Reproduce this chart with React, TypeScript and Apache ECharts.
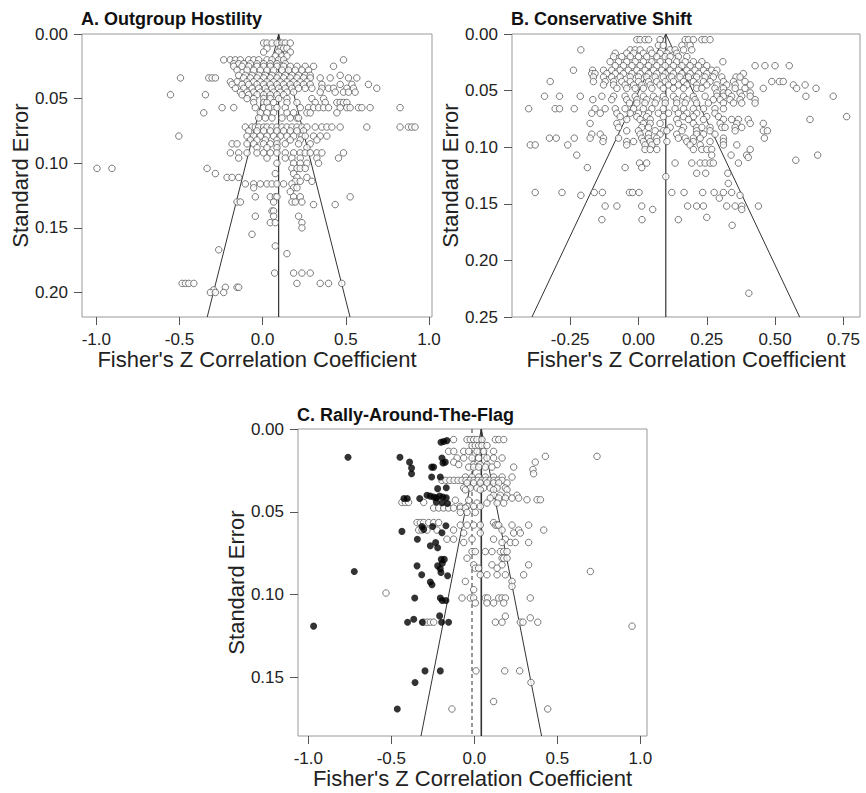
import React, { useEffect, useRef } from 'react';
import * as echarts from 'echarts';

const FONT = '"Liberation Sans", Arial, Helvetica, sans-serif';

// Panel A: Outgroup Hostility — rows of [standard error, Fisher's Z values]
const hostilityRows: [number, number[]][] = [
  [0.007, [0.006, 0.026, 0.056, 0.086, 0.116, 0.136, 0.166]],
  [0.011, [0.026, 0.106, 0.126, 0.146]],
  [0.014, [0.006, 0.096, 0.166]],
  [0.017, [0.076, 0.116, 0.146]],
  [0.020, [-0.234, -0.194, -0.164, -0.134, -0.084, -0.054, -0.024, 0.026, 0.056, 0.096, 0.126, 0.486]],
  [0.023, [-0.174, -0.144, -0.114, -0.074, -0.034, 0.006, 0.046, 0.086, 0.136]],
  [0.025, [-0.174, -0.124, -0.084, -0.034, 0.006, 0.046, 0.086, 0.126, 0.166, 0.206, 0.256, 0.306, 0.426]],
  [0.028, [-0.154, -0.094, -0.054, -0.014, 0.026, 0.066, 0.116, 0.156, 0.196, 0.236, 0.276]],
  [0.032, [-0.144, -0.104, -0.064, -0.024, 0.016, 0.056, 0.096, 0.136, 0.176, 0.216, 0.256, 0.286, 0.466]],
  [0.034, [-0.494, -0.324, -0.304, -0.284, -0.114, -0.074, -0.034, 0.006, 0.046, 0.086, 0.126, 0.166, 0.206, 0.246, 0.286, 0.346, 0.406, 0.516, 0.566]],
  [0.037, [-0.194, -0.154, -0.094, -0.054, -0.014, 0.026, 0.066, 0.106, 0.146, 0.186, 0.226, 0.266]],
  [0.039, [-0.184, -0.124, -0.084, -0.034, 0.006, 0.046, 0.086, 0.126, 0.166, 0.206, 0.246, 0.286, 0.356, 0.466, 0.536, 0.636]],
  [0.042, [-0.164, -0.114, -0.064, -0.024, 0.016, 0.056, 0.096, 0.136, 0.176, 0.216, 0.256, 0.296, 0.356, 0.396, 0.426, 0.506, 0.546, 0.686]],
  [0.045, [-0.134, -0.094, -0.054, -0.014, 0.026, 0.066, 0.106, 0.146, 0.186, 0.346, 0.436, 0.486, 0.516, 0.556]],
  [0.047, [-0.554, -0.344, -0.124, -0.084, -0.034, 0.006, 0.046, 0.086, 0.126]],
  [0.050, [-0.094, -0.054, 0.006, 0.046, 0.096, 0.146, 0.296, 0.366]],
  [0.053, [-0.054, 0.006, 0.026, 0.066, 0.146, 0.206, 0.316, 0.376, 0.446, 0.466, 0.486, 0.506]],
  [0.057, [-0.244, -0.174, -0.044, 0.006, 0.036, 0.086, 0.136, 0.226, 0.276, 0.306, 0.336, 0.366, 0.396, 0.466, 0.506, 0.526, 0.576, 0.596, 0.646, 0.826]],
  [0.061, [-0.354, -0.014, 0.026, 0.066, 0.146, 0.186, 0.266, 0.286, 0.446]],
  [0.065, [-0.024, 0.016, 0.056, 0.116, 0.166, 0.206, 0.216]],
  [0.072, [-0.104, -0.064, -0.044, -0.024, 0.006, 0.026, 0.056, 0.086, 0.116, 0.146, 0.176, 0.206, 0.236, 0.266, 0.316, 0.356, 0.386, 0.416, 0.466, 0.626, 0.826, 0.876, 0.896, 0.916]],
  [0.075, [-0.084, -0.034, 0.006, 0.046, 0.086, 0.126, 0.166, 0.206, 0.246]],
  [0.079, [-0.504, -0.094, -0.054, -0.014, 0.026, 0.066, 0.106, 0.146, 0.186, 0.236, 0.256, 0.306, 0.346, 0.386]],
  [0.082, [-0.074, -0.034, 0.016, 0.086, 0.166, 0.226, 0.326]],
  [0.085, [-0.184, -0.154, -0.094, -0.054, 0.006, 0.046, 0.086, 0.136, 0.216, 0.286]],
  [0.088, [-0.034, 0.026, 0.086, 0.266]],
  [0.092, [-0.194, -0.144, -0.094, -0.034, 0.006, 0.046, 0.086, 0.136, 0.186, 0.226, 0.256, 0.286, 0.326, 0.356, 0.486]],
  [0.096, [-0.144, 0.026, 0.136, 0.176, 0.226, 0.326, 0.456]],
  [0.100, [0.086, 0.186, 0.226, 0.266, 0.336]],
  [0.104, [-0.996, -0.906, -0.334, 0.176, 0.206, 0.226, 0.256]],
  [0.108, [-0.284, 0.076, 0.186]],
  [0.111, [-0.214, -0.184, -0.144, 0.206, 0.266]],
  [0.114, [0.196, 0.226, 0.296]],
  [0.116, [-0.104, -0.054, -0.014, 0.026, 0.056, 0.086, 0.126, 0.176]],
  [0.119, [-0.054, 0.186, 0.206]],
  [0.122, [0.166]],
  [0.126, [-0.044, 0.046, 0.076, 0.086, 0.186, 0.226, 0.526]],
  [0.130, [-0.154, -0.134, 0.066, 0.176, 0.196, 0.236]],
  [0.132, [0.306, 0.436]],
  [0.137, [0.056, 0.066]],
  [0.141, [-0.044, 0.066, 0.216]],
  [0.146, [0.046, 0.076, 0.236]],
  [0.150, [0.236]],
  [0.155, [-0.064]],
  [0.164, [0.076]],
  [0.167, [-0.264]],
  [0.170, [0.146]],
  [0.185, [0.072, 0.186, 0.236, 0.286]],
  [0.193, [-0.484, -0.464, -0.444, -0.414, 0.206, 0.346, 0.396, 0.476]],
  [0.196, [-0.224, -0.154, -0.144]],
  [0.198, [-0.294]],
  [0.200, [-0.314, -0.284, -0.234]],
];

// Panel B: Conservative Shift
const shiftRows: [number, number[]][] = [
  [0.005, [-0.006, 0.006, 0.024, 0.037, 0.079, 0.171, 0.183, 0.201, 0.232, 0.244, 0.262]],
  [0.010, [0.073, 0.091, 0.159, 0.189]],
  [0.014, [-0.211, -0.030, -0.012, 0.006, 0.043, 0.116, 0.134, 0.165, 0.195]],
  [0.017, [-0.085, -0.043, -0.018, 0.018, 0.049, 0.079, 0.104, 0.140]],
  [0.020, [-0.091, -0.061, -0.030, 0.000, 0.030, 0.067, 0.098, 0.116, 0.146, 0.177]],
  [0.0245, [-0.104, -0.073, -0.043, -0.012, 0.018, 0.049, 0.079, 0.110, 0.140, 0.171, 0.201, 0.232, 0.309]],
  [0.028, [-0.085, -0.055, -0.024, 0.006, 0.037, 0.067, 0.098, 0.128, 0.159, 0.189, 0.220, 0.250, 0.427, 0.463, 0.500, 0.552]],
  [0.032, [-0.238, -0.168, -0.128, -0.098, -0.067, -0.037, -0.006, 0.024, 0.055, 0.085, 0.116, 0.146, 0.177, 0.207, 0.238, 0.268, 0.287]],
  [0.035, [-0.171, -0.159, -0.116, -0.085, -0.055, -0.024, 0.006, 0.037, 0.067, 0.098, 0.128, 0.159, 0.189, 0.220, 0.250, 0.280, 0.384]],
  [0.038, [-0.165, -0.128, -0.098, -0.067, -0.030, 0.000, 0.030, 0.061, 0.091, 0.122, 0.152, 0.183, 0.213, 0.244, 0.274, 0.305, 0.357, 0.372]],
  [0.042, [-0.323, -0.165, -0.122, -0.091, -0.061, -0.030, 0.000, 0.037, 0.067, 0.098, 0.128, 0.165, 0.201, 0.238, 0.262, 0.311, 0.348, 0.390, 0.488, 0.516, 0.530]],
  [0.045, [-0.128, -0.091, -0.049, -0.018, 0.012, 0.043, 0.079, 0.110, 0.146, 0.177, 0.213, 0.250, 0.287, 0.323, 0.354, 0.409, 0.567, 0.610]],
  [0.048, [-0.079, -0.043, -0.012, 0.018, 0.049, 0.091, 0.128, 0.165, 0.213, 0.232, 0.280, 0.311, 0.354, 0.390, 0.457, 0.579, 0.650]],
  [0.052, [0.287, 0.311, 0.329, 0.372, 0.409]],
  [0.055, [-0.344, -0.289, -0.213, -0.134, -0.091, -0.049, -0.012, 0.018, 0.055, 0.091, 0.128, 0.165, 0.201, 0.244, 0.287, 0.311, 0.341, 0.378, 0.409, 0.613, 0.713]],
  [0.058, [-0.167, -0.098, -0.043, -0.006, 0.030, 0.067, 0.098, 0.140, 0.177, 0.207, 0.274, 0.299, 0.335, 0.372, 0.427]],
  [0.061, [-0.033, -0.006, 0.024, 0.061, 0.098, 0.140, 0.171, 0.213, 0.256, 0.311, 0.348, 0.378, 0.427]],
  [0.066, [-0.402, -0.305, -0.289, -0.235, -0.159, -0.122, -0.085, -0.049, -0.018, 0.018, 0.049, 0.091, 0.134, 0.165, 0.201, 0.238, 0.280, 0.311]],
  [0.070, [-0.171, -0.140, -0.079, -0.030, 0.000, 0.037, 0.073, 0.110, 0.146, 0.177, 0.213, 0.280]],
  [0.073, [-0.067, -0.006, 0.030, 0.091, 0.165, 0.201, 0.250, 0.293, 0.762]],
  [0.0755, [-0.043, 0.006, 0.043, 0.140, 0.183, 0.238, 0.311, 0.341, 0.366, 0.402, 0.628]],
  [0.079, [-0.177, -0.079, 0.018, 0.043, 0.079, 0.146, 0.201, 0.299, 0.360, 0.409, 0.457]],
  [0.0825, [-0.073, 0.012, 0.037, 0.116, 0.165, 0.213, 0.232, 0.262, 0.305, 0.317, 0.354, 0.378]],
  [0.0855, [-0.043, 0.000, 0.061, 0.091, 0.104, 0.159, 0.213, 0.262, 0.354, 0.457, 0.472]],
  [0.0885, [-0.171, -0.140, 0.006, 0.037, 0.079, 0.140, 0.213, 0.238, 0.280]],
  [0.092, [-0.326, -0.301, -0.235, -0.177, -0.128, -0.073, 0.012, 0.037, 0.067, 0.146, 0.171, 0.201, 0.226, 0.311, 0.461]],
  [0.095, [-0.130, -0.043, -0.018, 0.018, 0.043, 0.067, 0.104, 0.177, 0.201, 0.262, 0.311]],
  [0.098, [-0.396, -0.378, -0.259, -0.043, 0.024, 0.049, 0.189, 0.226, 0.311, 0.360]],
  [0.102, [0.024, 0.043, 0.067, 0.201, 0.232, 0.250, 0.268, 0.409]],
  [0.107, [-0.226, 0.268, 0.339, 0.396, 0.656]],
  [0.109, [0.402]],
  [0.1115, [0.576]],
  [0.114, [0.004, 0.030, 0.134, 0.195, 0.226, 0.244, 0.262, 0.274, 0.366]],
  [0.118, [-0.187, -0.049, 0.012]],
  [0.123, [0.213, 0.246, 0.327]],
  [0.126, [0.100]],
  [0.132, [0.329]],
  [0.140, [-0.378, -0.280, -0.162, -0.132, -0.033, -0.022, 0.002, 0.122, 0.167, 0.235, 0.277, 0.311, 0.341]],
  [0.1425, [-0.211, 0.372]],
  [0.145, [0.296]],
  [0.152, [-0.122, -0.079, 0.012, 0.180, 0.213, 0.238, 0.323, 0.354, 0.378, 0.439]],
  [0.155, [0.052, 0.378]],
  [0.162, [0.250]],
  [0.164, [-0.134, 0.013, 0.146]],
  [0.169, [0.343]],
  [0.229, [0.404]],
];

// Panel C: Rally-Around-The-Flag (open = observed studies)
const rallyOpenRows: [number, number[]][] = [
  [0.0064, [-0.125, -0.044, -0.024, -0.004, 0.016, 0.046, 0.127, 0.147, 0.177]],
  [0.010, [-0.014, 0.006, 0.026, 0.046, 0.076]],
  [0.0135, [-0.155, -0.124, -0.064, -0.034, 0.016, 0.056, 0.116]],
  [0.0165, [0.428, 0.739]],
  [0.0175, [-0.104, -0.064, -0.014, 0.026, 0.076, 0.116, 0.167]],
  [0.020, [-0.124, 0.367]],
  [0.0215, [-0.094, -0.004, 0.036, 0.076, 0.137]],
  [0.023, [-0.034, -0.004, 0.026, 0.066, 0.106, 0.237]],
  [0.0245, [0.353]],
  [0.027, [0.357]],
  [0.029, [-0.054, -0.014, 0.026, 0.066, 0.116, 0.167, 0.227]],
  [0.031, [-0.195, -0.171, -0.147, -0.122, -0.098, -0.074, -0.050, -0.026, -0.002, 0.022, 0.046, 0.070, 0.094, 0.118, 0.143, 0.167]],
  [0.0326, [-0.044, -0.004, 0.036, 0.076, 0.116, 0.147, 0.197]],
  [0.0356, [-0.064, -0.024, 0.016, 0.056, 0.096, 0.137, 0.187]],
  [0.0367, [-0.054, 0.036, 0.116, 0.197]],
  [0.040, [0.116, 0.157, 0.197, 0.257]],
  [0.0417, [0.096, 0.147, 0.187, 0.227, 0.267]],
  [0.0427, [0.317, 0.378, 0.398]],
  [0.043, [-0.114, -0.034]],
  [0.0443, [-0.436, -0.416, -0.396, -0.305]],
  [0.0447, [0.016, 0.076, 0.137, 0.177]],
  [0.0467, [-0.084, -0.044, -0.004, 0.036]],
  [0.0477, [-0.245, -0.215, -0.185, -0.155, -0.125, -0.084, -0.054]],
  [0.0503, [-0.084, -0.044, 0.006]],
  [0.0565, [-0.345, -0.325, -0.305, -0.275, -0.245, -0.215, 0.116]],
  [0.058, [-0.084, -0.044, -0.004, 0.036, 0.127, 0.137, 0.147, 0.227, 0.327]],
  [0.061, [-0.335, -0.315, -0.285, -0.225, -0.125, 0.167, 0.267, 0.418]],
  [0.0628, [-0.064, 0.036, 0.237, 0.277]],
  [0.0665, [-0.165, -0.125, -0.014, 0.116, 0.187]],
  [0.0685, [-0.064, 0.167, 0.217, 0.247, 0.327]],
  [0.074, [-0.014, 0.006, 0.066, 0.106, 0.157, 0.177, 0.197]],
  [0.078, [-0.044, 0.167, 0.177, 0.197]],
  [0.082, [-0.004, 0.106, 0.167, 0.327]],
  [0.084, [0.006, 0.026, 0.137]],
  [0.086, [0.699]],
  [0.088, [0.036, 0.076, 0.137, 0.187, 0.297]],
  [0.092, [-0.054, 0.227]],
  [0.095, [0.227]],
  [0.097, [-0.004]],
  [0.099, [-0.532]],
  [0.102, [-0.074, -0.024, -0.004, 0.066, 0.080, 0.147, 0.167, 0.187, 0.337]],
  [0.105, [0.006, 0.076, 0.116, 0.177]],
  [0.113, [0.187]],
  [0.114, [0.337]],
  [0.1166, [-0.305, -0.285, -0.265, -0.245, 0.127, 0.167, 0.277, 0.293, 0.382]],
  [0.119, [0.950]],
  [0.146, [0.010, 0.183, 0.273]],
  [0.153, [0.341]],
  [0.1645, [0.116]],
  [0.169, [-0.135, 0.442]],
];

// Panel C: imputed studies (filled) as [Fisher's Z, SE]
const rallyFilled: [number, number][] = [
  [-0.761, 0.017], [-0.448, 0.017], [-0.390, 0.020], [-0.378, 0.0236], [-0.378, 0.027],
  [-0.257, 0.023], [-0.245, 0.023], [-0.195, 0.0175], [-0.189, 0.0205], [-0.175, 0.020],
  [-0.165, 0.007], [-0.185, 0.0075], [-0.201, 0.008],
  [-0.257, 0.029], [-0.205, 0.029], [-0.221, 0.036], [-0.169, 0.0355],
  [-0.424, 0.042], [-0.404, 0.042], [-0.329, 0.042],
  [-0.285, 0.040], [-0.265, 0.0405], [-0.245, 0.041], [-0.229, 0.0415], [-0.209, 0.0405], [-0.189, 0.041], [-0.169, 0.0415],
  [-0.229, 0.044], [-0.193, 0.0445], [-0.161, 0.045],
  [-0.436, 0.0618], [-0.343, 0.0665], [-0.315, 0.0588], [-0.251, 0.0588], [-0.171, 0.0584],
  [-0.305, 0.0606], [-0.195, 0.0626],
  [-0.265, 0.0705], [-0.233, 0.0685], [-0.221, 0.0717],
  [-0.199, 0.0787], [-0.181, 0.0787], [-0.193, 0.081],
  [-0.345, 0.0826], [-0.221, 0.0826], [-0.205, 0.0844], [-0.201, 0.0866], [-0.161, 0.0886],
  [-0.317, 0.088], [-0.723, 0.086], [-0.265, 0.0924], [-0.255, 0.094],
  [-0.359, 0.102], [-0.205, 0.102], [-0.171, 0.1035], [-0.193, 0.1035],
  [-0.209, 0.1128], [-0.402, 0.1166], [-0.365, 0.1148], [-0.313, 0.1166], [-0.197, 0.1166], [-0.155, 0.1166],
  [-0.968, 0.119], [-0.297, 0.146], [-0.205, 0.146], [-0.357, 0.153], [-0.464, 0.169],
];

// Summary estimates and axis ranges
const titles = ['A. Outgroup Hostility', 'B. Conservative Shift', 'C. Rally-Around-The-Flag'];
const means = [0.096, 0.1, 0.042];
const adjustedMeanC = -0.014;
const seMax = [0.219, 0.25, 0.1853];
const xRanges: [number, number][] = [[-1.086, 1.018], [-0.463, 0.811], [-1.062, 1.04]];
const xTicks = [[-1.0, -0.5, 0.0, 0.5, 1.0], [-0.25, 0.0, 0.25, 0.5, 0.75], [-1.0, -0.5, 0.0, 0.5, 1.0]];
const xDecimals = [1, 2, 1];
const yTicks = [[0, 0.05, 0.1, 0.15, 0.2], [0, 0.05, 0.1, 0.15, 0.2, 0.25], [0, 0.05, 0.1, 0.15]];

const grids = [
  { left: 82, top: 34, width: 350, height: 283 },
  { left: 512, top: 34, width: 348, height: 283 },
  { left: 298, top: 429, width: 349, height: 307 },
];
const titlePos = [
  { left: 81, top: 10 },
  { left: 511, top: 10 },
  { left: 297, top: 406 },
];

function rowsToPoints(rows: [number, number[]][]): [number, number][] {
  const out: [number, number][] = [];
  for (const [se, xs] of rows) for (const x of xs) out.push([x, se]);
  return out;
}

function funnel(mean: number, se: number): [number, number][] {
  return [[mean - 1.96 * se, se], [mean, 0], [mean + 1.96 * se, se]];
}

export default function App() {
  const ref = useRef<HTMLDivElement>(null);
  useEffect(() => {
    if (!ref.current) return;
    const chart = echarts.init(ref.current, undefined, { renderer: 'svg' });
    const openPoints = [rowsToPoints(hostilityRows), rowsToPoints(shiftRows), rowsToPoints(rallyOpenRows)];

    const xAxis = grids.map((_, i) => ({
      type: 'value',
      gridIndex: i,
      position: 'bottom',
      min: xRanges[i][0],
      max: xRanges[i][1],
      axisLine: { show: false, onZero: false },
      splitLine: { show: false },
      axisTick: { show: true, inside: false, length: 8, customValues: xTicks[i], lineStyle: { color: '#555', width: 1 } },
      axisLabel: {
        customValues: xTicks[i],
        formatter: (v: number) => v.toFixed(xDecimals[i]),
        fontSize: 17, color: '#222', fontFamily: FONT, margin: 14,
      },
      name: "Fisher's Z Correlation Coefficient",
      nameLocation: 'middle',
      nameGap: 31,
      nameTextStyle: { fontSize: 22, color: '#222', fontFamily: FONT },
    }));

    const yAxis = grids.map((_, i) => ({
      type: 'value',
      gridIndex: i,
      position: 'left',
      inverse: true,
      min: 0,
      max: seMax[i],
      axisLine: { show: false, onZero: false },
      splitLine: { show: false },
      axisTick: { show: true, inside: false, length: 8, customValues: yTicks[i], lineStyle: { color: '#555', width: 1 } },
      axisLabel: {
        customValues: yTicks[i],
        formatter: (v: number) => v.toFixed(2),
        fontSize: 17, color: '#222', fontFamily: FONT, margin: 14,
      },
      name: 'Standard Error',
      nameLocation: 'middle',
      nameGap: 48,
      nameTextStyle: { fontSize: 22, color: '#222', fontFamily: FONT },
    }));

    const series: any[] = [];
    grids.forEach((_, i) => {
      series.push({
        type: 'line', xAxisIndex: i, yAxisIndex: i, data: funnel(means[i], seMax[i]),
        symbol: 'none', silent: true, z: 1, lineStyle: { color: '#333', width: 1 },
      });
      series.push({
        type: 'line', xAxisIndex: i, yAxisIndex: i, data: [[means[i], 0], [means[i], seMax[i]]],
        symbol: 'none', silent: true, z: 1, lineStyle: { color: '#333', width: i === 2 ? 1.6 : 1.2 },
      });
      series.push({
        type: 'scatter', xAxisIndex: i, yAxisIndex: i, data: openPoints[i],
        symbol: 'circle', symbolSize: 6.5, z: 2,
        itemStyle: { color: '#fff', borderColor: '#5a5a5a', borderWidth: 1 },
      });
    });
    series.push({
      type: 'line', xAxisIndex: 2, yAxisIndex: 2, data: [[adjustedMeanC, 0], [adjustedMeanC, seMax[2]]],
      symbol: 'none', silent: true, z: 1, lineStyle: { color: '#333', width: 1, type: [4, 3] },
    });
    series.push({
      type: 'scatter', xAxisIndex: 2, yAxisIndex: 2, data: rallyFilled,
      symbol: 'circle', symbolSize: 7, z: 3,
      itemStyle: { color: '#000', borderColor: '#000', borderWidth: 0 },
    });

    chart.setOption({
      animation: false,
      backgroundColor: '#fff',
      title: titles.map((t, i) => ({
        text: t, left: titlePos[i].left, top: titlePos[i].top, padding: 0,
        textStyle: { fontSize: 18, fontWeight: 'bold', color: '#111', fontFamily: FONT },
      })),
      grid: grids.map((g) => ({ ...g, show: true, borderColor: '#999', borderWidth: 1, backgroundColor: '#fff', containLabel: false })),
      xAxis,
      yAxis,
      series,
    });
    return () => chart.dispose();
  }, []);

  return <div ref={ref} style={{ position: 'fixed', left: 0, top: 0, width: 866, height: 793, background: '#fff' }} />;
}
